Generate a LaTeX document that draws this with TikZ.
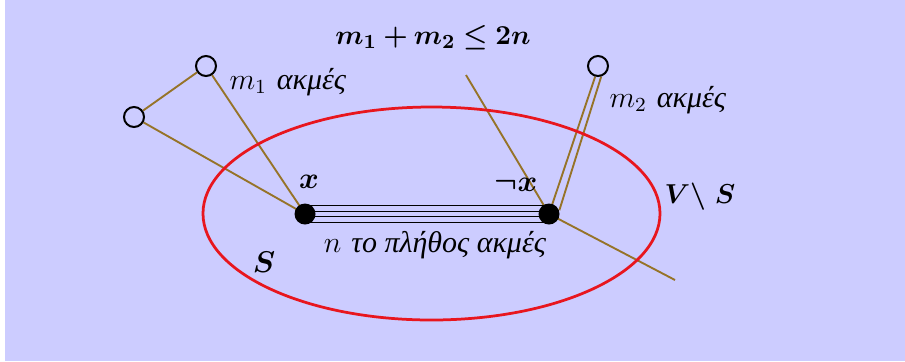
\documentclass[tikz,border=0pt]{standalone}
\usepackage{amsmath,amssymb,bm}
\usepackage{fontspec}
\newfontfamily\grfont{Liberation Serif}
\definecolor{bg}{RGB}{204,204,255}
\definecolor{brn}{RGB}{150,115,40}
\definecolor{ered}{RGB}{232,22,30}
\pgfdeclarelayer{bgl}
\pgfdeclarelayer{back}
\pgfsetlayers{bgl,back,main}
\begin{document}
\begin{tikzpicture}[x=0.4pt,y=-0.4pt,
  open/.style={circle,draw=black,line width=0.8pt,minimum size=8pt,inner sep=0pt},
  solid dot/.style={circle,fill=black,minimum size=8.4pt,inner sep=0pt},
  edge/.style={draw=brn,line width=0.75pt},
  bund/.style={draw=black,line width=0.55pt},
  lbl/.style={inner sep=0pt}]
\useasboundingbox (0,0) rectangle (905,361);
\begin{pgfonlayer}{bgl}
\fill[white] (0,0) rectangle (905,361);
\fill[bg] (5,0) rectangle (905,361);
\end{pgfonlayer}
% ellipse
\draw[ered,line width=1.1pt] (431.5,213.5) ellipse [x radius=228.5, y radius=106.5];
% nodes
\node[open] (c1) at (206,66) {};
\node[open] (c2) at (134,117) {};
\node[open] (c3) at (598,66) {};
\node[solid dot] (x) at (305,214) {};
\node[solid dot] (nx) at (549,214) {};
\coordinate (t) at (466,75);
\coordinate (b) at (675,280);
% edges
\begin{pgfonlayer}{back}
\draw[edge] (c1) -- (x.center);
\draw[edge] (c2) -- (c1);
\draw[edge] (c2) -- (x.center);
\draw[edge] (t) -- (nx.center);
\draw[edge] (nx.center) -- (b);
\draw[edge] (c3.255) -- (nx.center);
\draw[edge] (c3.287) -- (nx.20);
\foreach \d in {-8.25,-2.75,2.75,8.25}
  \draw[bund] ([yshift=\d*0.4pt]x.center) -- ([yshift=\d*0.4pt]nx.center);
\end{pgfonlayer}
% labels
\node[lbl] (title) at (433,38) {\fontsize{11}{13}\selectfont$\boldsymbol{m_1+m_2\le 2n}$};
\node[lbl,anchor=west] (l1) at (229,82) {\large$m_1$ {\grfont\itshape ακμές}};
\node[lbl,anchor=west] (l2) at (609,100) {\large$m_2$ {\grfont\itshape ακμές}};
\node[lbl] (lx) at (309,182) {\large$\boldsymbol{x}$};
\node[lbl] (lnx) at (516,185) {\large$\boldsymbol{\neg x}$};
\node[lbl] (lv) at (700,197) {\fontsize{11}{13}\selectfont$\boldsymbol{V\backslash\ S}$};
\node[lbl] (ls) at (264,262) {\large$\boldsymbol{S}$};
\node[lbl] (ln) at (435,245) {\large$n$ {\grfont\itshape το πλήθος ακμές}};
\end{tikzpicture}
\end{document}
